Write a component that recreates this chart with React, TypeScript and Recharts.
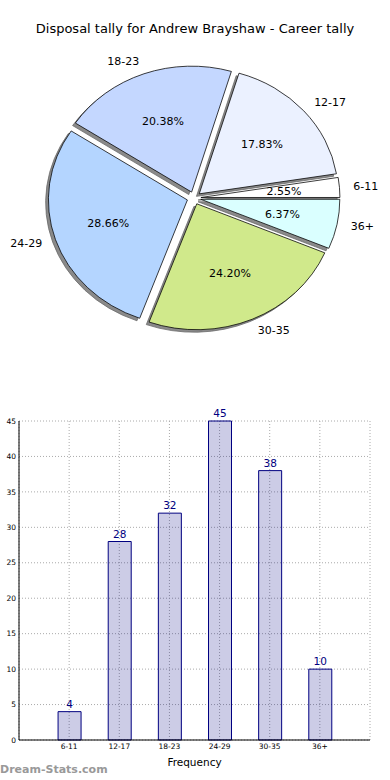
import { Bar, BarChart, CartesianGrid, LabelList, Pie, PieChart, Sector, XAxis, YAxis } from "recharts";

const CATEGORIES = ["6-11", "12-17", "18-23", "24-29", "30-35", "36+"];
const COUNTS = [4, 28, 32, 45, 38, 10];
const SLICE_COLORS = ["#ffffff", "#ebf1ff", "#c4d7ff", "#b4d5ff", "#d0e98b", "#daffff"];
const Y_TICKS = [0, 5, 10, 15, 20, 25, 30, 35, 40, 45];

const FONT = "'DejaVu Sans', sans-serif";
const SY = 0.906; // matplotlib axes are not square, so the pie is an ellipse
const EXPLODE = 0.05;
const RAD = Math.PI / 180;

const pieData = CATEGORIES.map((name, i) => ({ name, value: COUNTS[i], fill: SLICE_COLORS[i] }));
const barData = CATEGORIES.map((name, i) => ({ name, x: i + 1, value: COUNTS[i] }));

function squash(cx: number, cy: number) {
  return `translate(${cx} ${cy}) scale(1 ${SY}) translate(${-cx} ${-cy})`;
}

function explodeOffset(props: any) {
  const r = props.outerRadius * EXPLODE;
  return [r * Math.cos(-props.midAngle * RAD), r * Math.sin(-props.midAngle * RAD)];
}

function SliceShape(props: any) {
  const [dx, dy] = explodeOffset(props);
  return (
    <g transform={squash(props.cx, props.cy)}>
      <Sector
        cx={props.cx + dx}
        cy={props.cy + dy}
        innerRadius={0}
        outerRadius={props.outerRadius}
        startAngle={props.startAngle}
        endAngle={props.endAngle}
        fill={props.fill}
        stroke="#000"
        strokeWidth={0.8}
      />
    </g>
  );
}

function ShadowShape(props: any) {
  const [dx, dy] = explodeOffset(props);
  const off = props.outerRadius * 0.02;
  return (
    <g transform={squash(props.cx, props.cy)}>
      <Sector
        cx={props.cx + dx - off}
        cy={props.cy + dy + off}
        innerRadius={0}
        outerRadius={props.outerRadius}
        startAngle={props.startAngle}
        endAngle={props.endAngle}
        fill="#8a8a8a"
        stroke="#666"
        strokeWidth={0.8}
      />
    </g>
  );
}

function SliceLabel(props: any) {
  const { cx, cy, midAngle, outerRadius, name, percent } = props;
  const c = Math.cos(-midAngle * RAD);
  const s = Math.sin(-midAngle * RAD);
  const outer = outerRadius * (1.1 + EXPLODE);
  const inner = outerRadius * (0.6 + EXPLODE);
  return (
    <g fontFamily={FONT} fontSize={11} fill="#000">
      <text
        x={cx + outer * c}
        y={cy + outer * s * SY}
        textAnchor={c > 0 ? "start" : "end"}
        dominantBaseline="central"
      >
        {name}
      </text>
      <text x={cx + inner * c} y={cy + inner * s * SY} textAnchor="middle" dominantBaseline="central">
        {(percent * 100).toFixed(2)}%
      </text>
    </g>
  );
}

export default function App() {
  return (
    <div style={{ position: "fixed", left: 0, top: 0, width: 390, height: 780, background: "#fff", fontFamily: FONT }}>
      <div style={{ position: "absolute", top: 21, width: 390, textAlign: "center", fontSize: 13 }}>
        Disposal tally for Andrew Brayshaw - Career tally
      </div>

      <div style={{ position: "absolute", left: 0, top: 0 }}>
        <PieChart width={390} height={380} margin={{ top: 0, right: 0, bottom: 0, left: 0 }}>
          <Pie
            data={pieData}
            dataKey="value"
            nameKey="name"
            cx={194}
            cy={198}
            outerRadius={139}
            startAngle={0}
            endAngle={360}
            stroke="none"
            shape={ShadowShape}
            inactiveShape={ShadowShape}
            activeShape={ShadowShape}
            isAnimationActive={false}
          />
          <Pie
            data={pieData}
            dataKey="value"
            nameKey="name"
            cx={194}
            cy={198}
            outerRadius={139}
            startAngle={0}
            endAngle={360}
            shape={SliceShape}
            inactiveShape={SliceShape}
            activeShape={SliceShape}
            label={SliceLabel}
            labelLine={false}
            isAnimationActive={false}
          />
        </PieChart>
      </div>

      <div style={{ position: "absolute", left: 0, top: 400 }}>
        <BarChart width={390} height={380} data={barData} margin={{ top: 21, right: 20, bottom: 10, left: 0 }}>
          <CartesianGrid stroke="#aaa" strokeDasharray="1 2" />
          <XAxis
            dataKey="x"
            type="number"
            domain={[0, 7]}
            ticks={[1, 2, 3, 4, 5, 6]}
            tickFormatter={(v: number) => CATEGORIES[v - 1]}
            height={30}
            tickSize={0}
            tickMargin={4}
            axisLine={{ stroke: "#000" }}
            tick={{ fontSize: 7.5, fill: "#000", fontFamily: FONT }}
            label={{ value: "Frequency", position: "insideBottom", offset: 4, fontSize: 10.5, fill: "#000", fontFamily: FONT }}
          />
          <XAxis xAxisId="top" orientation="top" dataKey="x" type="number" domain={[0, 7]} height={0} tick={false} axisLine={{ stroke: "#000" }} />
          <YAxis
            domain={[0, 45]}
            ticks={Y_TICKS}
            width={19}
            tickSize={0}
            tickMargin={3}
            axisLine={{ stroke: "#000" }}
            tick={{ fontSize: 7.5, fill: "#000", fontFamily: FONT }}
          />
          <YAxis yAxisId="right" orientation="right" domain={[0, 45]} width={0} tick={false} axisLine={{ stroke: "#000" }} />
          <Bar dataKey="value" barSize={23} fill="#000080" fillOpacity={0.2} stroke="#000080" strokeWidth={1} isAnimationActive={false}>
            <LabelList dataKey="value" position="top" offset={4} fill="#000080" fontSize={10.5} fontFamily={FONT} />
          </Bar>
        </BarChart>
      </div>

      <div style={{ position: "absolute", left: 0, top: 763, fontSize: 11, fontWeight: "bold", color: "#999" }}>
        Dream-Stats.com
      </div>
    </div>
  );
}
